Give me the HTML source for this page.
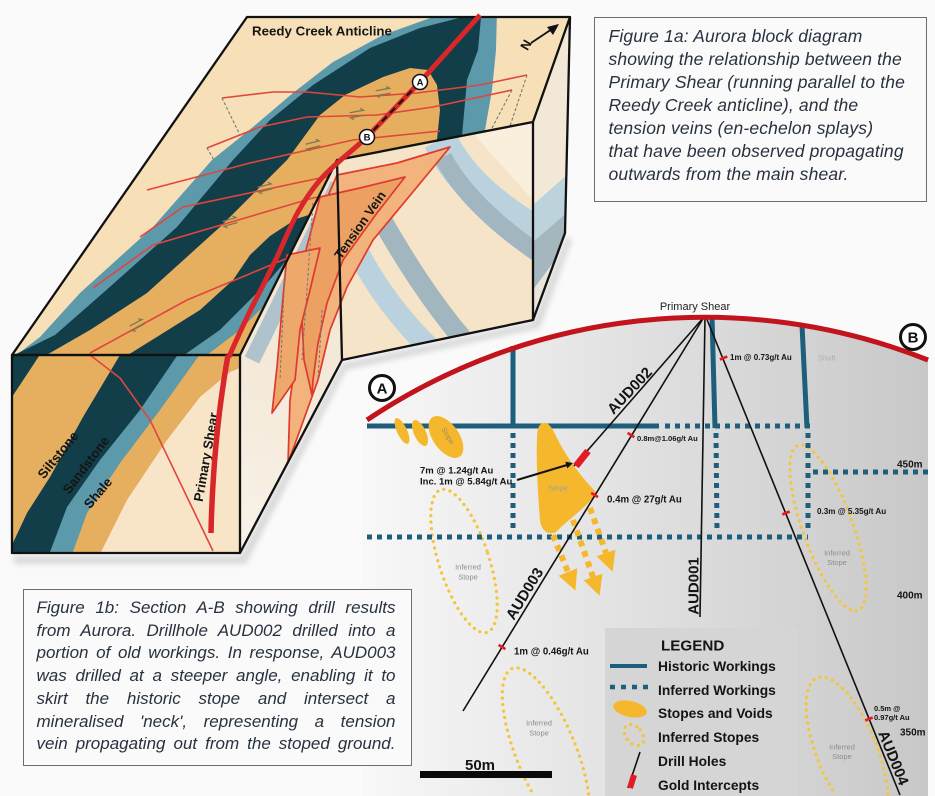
<!DOCTYPE html>
<html><head><meta charset="utf-8">
<style>
html,body{margin:0;padding:0;background:#fafafa;}
#wrap{position:relative;width:935px;height:796px;overflow:hidden;background:#fafafa;font-family:"Liberation Sans",sans-serif;}
svg{position:absolute;left:0;top:0;}
.cap{position:absolute;box-sizing:border-box;border:1.5px solid #6e6e6e;background:#fafafa;color:#28323f;font-style:italic;font-family:"Liberation Sans",sans-serif;}
.j{text-align:justify;text-align-last:justify;}
</style></head><body>
<div id="wrap">
<svg width="935" height="796" viewBox="0 0 935 796" font-family="Liberation Sans, sans-serif">
<defs>
<clipPath id="topc"><polygon points="247,17 570,17 533,122 337,160 240,355 12,355"/></clipPath>
<clipPath id="frontc"><rect x="12" y="355" width="228" height="198"/></clipPath>
<clipPath id="notchc"><polygon points="240,355 337,160 342,360 240,553"/></clipPath>
<clipPath id="rfc"><polygon points="337,160 533,122 533,320 342,360"/></clipPath>
<clipPath id="rsc"><polygon points="533,122 570,17 565,233 533,320"/></clipPath>
<linearGradient id="secg" x1="362" y1="0" x2="928" y2="0" gradientUnits="userSpaceOnUse"><stop offset="0" stop-color="#f8f8f8"/><stop offset="1" stop-color="#c8c8c8"/></linearGradient>
<linearGradient id="notchg" x1="300" y1="200" x2="260" y2="540" gradientUnits="userSpaceOnUse"><stop offset="0" stop-color="#f1e2cb"/><stop offset="1" stop-color="#f8f1e7"/></linearGradient>
<filter id="blur"><feGaussianBlur stdDeviation="3"/></filter>
</defs>

<!-- ===== SECTION ===== -->
<path d="M367,420 A606,606 0 0,1 928,360 L928,796 L362,796 L362,420 Z" fill="url(#secg)"/>
<rect x="605" y="628" width="193" height="168" fill="#d5d5d5"/>

<g fill="none" stroke="#f4c53a" stroke-width="3.3" stroke-linecap="round" stroke-dasharray="0 6.5">
<ellipse cx="464" cy="561" rx="25" ry="75" transform="rotate(-18 464 561)"/>
<ellipse cx="828" cy="528" rx="25" ry="88" transform="rotate(-20 828 528)"/>
<path d="M588.6,794 A30,90 -22 1 0 533,794"/>
<path d="M887.8,794 A30,80 -22 1 0 834.8,794"/>
<ellipse cx="634" cy="735" rx="8" ry="12" transform="rotate(-40 634 735)"/>
</g>

<g stroke="#1d5e7b" stroke-width="5" fill="none">
<line x1="367" y1="426" x2="659" y2="426"/>
<line x1="513" y1="346" x2="513" y2="428"/>
<line x1="712" y1="316" x2="715" y2="428"/>
<line x1="802" y1="325" x2="807" y2="428"/>
<line x1="610" y1="666" x2="647" y2="666" stroke-width="4"/>
</g>
<g stroke="#1d5e7b" stroke-width="5" stroke-dasharray="5 5" fill="none">
<line x1="665" y1="426" x2="810" y2="426"/>
<line x1="513" y1="433" x2="513" y2="532"/>
<line x1="367" y1="537" x2="808" y2="537"/>
<line x1="716" y1="433" x2="717" y2="532"/>
<line x1="808" y1="433" x2="808" y2="532"/>
<line x1="813" y1="472" x2="930" y2="472"/>
<line x1="610" y1="687" x2="650" y2="687" stroke-width="4.5" stroke-dasharray="5 6"/>
</g>

<g fill="#f5b82c">
<ellipse cx="402" cy="431" rx="5" ry="14" transform="rotate(-25 402 431)"/>
<ellipse cx="420" cy="433" rx="6" ry="14" transform="rotate(-25 420 433)"/>
<ellipse cx="446" cy="437" rx="13" ry="24" transform="rotate(-35 446 437)"/>
<path d="M541,424 C548,420 552,428 556,436 C565,455 580,476 596,492 C590,505 572,516 556,532 C548,536 541,530 540,520 C538,495 536,460 537,440 C537,432 538,426 541,424 Z"/>
<ellipse cx="630" cy="709" rx="17" ry="8" transform="rotate(12 630 709)"/>
</g>
<g stroke="#f5b82c" stroke-width="6" stroke-dasharray="6 5" fill="none">
<line x1="553" y1="535" x2="568" y2="572"/>
<line x1="573" y1="520" x2="593" y2="577"/>
<line x1="590" y1="508" x2="606" y2="553"/>
</g>
<g fill="#f5b82c">
<polygon points="575.4,590.6 577.3,568.3 558.7,575.7"/>
<polygon points="599.6,595.8 602.4,573.7 583.6,580.3"/>
<polygon points="612.6,571.8 615.4,549.7 596.6,556.3"/>
</g>
<text x="446" y="437" font-size="7" fill="#a08a60" text-anchor="middle" transform="rotate(60 446 437)">Stope</text>
<text x="558" y="490.5" font-size="7.5" fill="#a0a0a0" text-anchor="middle">Stope</text>

<g stroke="#111" stroke-width="1.6">
<line x1="704" y1="317" x2="574" y2="466"/>
<line x1="704" y1="317" x2="463" y2="711"/>
<line x1="705" y1="317" x2="700" y2="617"/>
<line x1="706" y1="317" x2="900" y2="795"/>
<line x1="640" y1="752" x2="628" y2="788"/>
<line x1="517" y1="480" x2="567" y2="465" stroke-width="2"/>
</g>
<polygon points="573,463 567.3,468.4 565.3,461.8" fill="#111"/>

<g stroke="#e31b23" stroke-width="2.6">
<line x1="627.6" y1="432.9" x2="634.4" y2="437.1"/>
<line x1="591.2" y1="492.9" x2="598" y2="497.1"/>
<line x1="498.6" y1="644.9" x2="505.4" y2="649.1"/>
<line x1="719.9" y1="359.5" x2="727.3" y2="356.5"/>
<line x1="782.3" y1="514.5" x2="789.7" y2="511.5"/>
<line x1="865.3" y1="720.5" x2="872.7" y2="717.5"/>
<line x1="588" y1="451" x2="576" y2="466" stroke-width="7"/>
<line x1="634" y1="775" x2="630" y2="788" stroke-width="6"/>
</g>

<g font-weight="bold" fill="#141414">
<text x="420" y="473.5" font-size="9.5">7m @ 1.24g/t Au</text>
<text x="420" y="484.5" font-size="9.5">Inc. 1m @ 5.84g/t Au</text>
<text x="637" y="441" font-size="7.6">0.8m@1.06g/t Au</text>
<text x="607" y="502.5" font-size="9.7">0.4m @ 27g/t Au</text>
<text x="730" y="360" font-size="8">1m @ 0.73g/t Au</text>
<text x="817" y="514" font-size="8.1">0.3m @ 5.35g/t Au</text>
<text x="514" y="654.5" font-size="9.7">1m @ 0.46g/t Au</text>
<text x="874" y="711" font-size="7.5">0.5m @</text>
<text x="874" y="720" font-size="7.5">0.97g/t Au</text>
<text x="897" y="467.5" font-size="10">450m</text>
<text x="897" y="598.5" font-size="10">400m</text>
<text x="900" y="735.5" font-size="10">350m</text>
<text transform="translate(630,391) rotate(-47)" font-size="15" text-anchor="middle" dominant-baseline="central">AUD002</text>
<text transform="translate(525,594) rotate(-58.6)" font-size="15" text-anchor="middle" dominant-baseline="central">AUD003</text>
<text transform="translate(694,586) rotate(-90)" font-size="15" text-anchor="middle" dominant-baseline="central">AUD001</text>
<text transform="translate(893,758) rotate(67.8)" font-size="15" text-anchor="middle" dominant-baseline="central">AUD004</text>
<text x="661" y="650.5" font-size="15.2">LEGEND</text>
<text x="658" y="671" font-size="13.8">Historic Workings</text>
<text x="658" y="695" font-size="13.8">Inferred Workings</text>
<text x="658" y="718" font-size="13.8">Stopes and Voids</text>
<text x="658" y="742" font-size="13.8">Inferred Stopes</text>
<text x="658" y="766" font-size="13.8">Drill Holes</text>
<text x="658" y="790" font-size="13.8">Gold Intercepts</text>
<text x="465" y="770" font-size="15">50m</text>
</g>
<rect x="420" y="771" width="132" height="7" fill="#0a0a0a"/>
<g font-size="7.5" fill="#8c8c8c" text-anchor="middle">
<text x="468" y="569.5">Inferred</text><text x="468" y="579.5">Stope</text>
<text x="837" y="555.5">Inferred</text><text x="837" y="565">Stope</text>
<text x="539" y="725.5">Inferred</text><text x="539" y="735.5">Stope</text>
<text x="842" y="749.5">Inferred</text><text x="842" y="759">Stope</text>
</g>
<text x="818" y="360.5" font-size="7.5" fill="#b0b0b0">Shaft</text>
<text x="695" y="310" font-size="11" fill="#222" text-anchor="middle">Primary Shear</text>

<path d="M367,420 A606,606 0 0,1 928,360" fill="none" stroke="#c1141c" stroke-width="5"/>
<circle cx="382" cy="388" r="12.5" fill="#fff" stroke="#111" stroke-width="3"/>
<text x="382" y="393.5" font-size="15" font-weight="bold" text-anchor="middle" fill="#111">A</text>
<circle cx="913" cy="337" r="12.5" fill="#fff" stroke="#111" stroke-width="3"/>
<text x="913" y="342.5" font-size="15" font-weight="bold" text-anchor="middle" fill="#111">B</text>

<!-- ===== BLOCK ===== -->
<polygon points="14,556 240,556 342,363 533,322 566,236 572,240 540,328 346,370 246,564 14,564" fill="#000" opacity="0.13" filter="url(#blur)"/>

<g clip-path="url(#topc)">
<rect x="0" y="0" width="600" height="400" fill="#f7dfb8"/>
<polygon fill="#5c99ab" points="433,10 433,17 383,35 333,62 293,93 253,127 212,160 153,227 80,293 40,337 15,356 -10,380 -10,420 300,420 485,200 485,130 492,90 496,50 497,10"/>
<polygon fill="#113e49" points="463,10 463,17 420,28 370,48 313,85 270,120 233,160 177,227 103,293 55,335 10,357 -10,380 -10,420 300,420 462,200 462,136 467,80 478,50 481,17 481,10"/>
<polygon fill="#e6ae5f" points="410,68 383,77 345,95 320,115 287,160 220,227 147,293 90,330 43,357 20,400 300,420 437,200 437,140 440,110 437,85 428,70"/>
<polygon fill="#113e49" points="123,358 160,335 200,310 233,280 250,255 270,236 296,219 318,212 322,222 300,250 285,262 268,282 250,300 220,330 180,358"/>
<polygon fill="#5c99ab" points="180,358 220,330 250,300 268,282 285,262 300,250 312,244 292,274 270,300 240,330 203,358"/>
<g fill="none" stroke="#e2453c" stroke-width="1.6">
<polyline points="222,98 273,92 307,92 360,97 417,93 480,85 527,75"/>
<polyline points="207,148 260,127 307,117 377,115 433,107 512,90"/>
<polyline points="147,190 250,163 353,140 440,131"/>
<polyline points="140,237 183,207 320,178 360,173"/>
<polyline points="93,288 153,245 313,198 360,190"/>
<polyline points="90,353 187,300 290,257 325,250"/>
</g>
<g fill="none" stroke="#777" stroke-width="1.1" stroke-dasharray="3 2">
<line x1="222" y1="98" x2="240" y2="135"/>
<line x1="207" y1="148" x2="214" y2="160"/>
<line x1="527" y1="75" x2="510" y2="126"/>
<line x1="512" y1="90" x2="492" y2="128"/>
</g>
<g fill="none" stroke="#7a7a52" stroke-width="1.3">
<path transform="translate(383,92) rotate(-10)" d="M-7,-2.5 L7,-2.5 L4,-5 M7,2.5 L-7,2.5 L-4,5"/>
<path transform="translate(357,114) rotate(-10)" d="M-7,-2.5 L7,-2.5 L4,-5 M7,2.5 L-7,2.5 L-4,5"/>
<path transform="translate(313,145) rotate(-14)" d="M-7,-2.5 L7,-2.5 L4,-5 M7,2.5 L-7,2.5 L-4,5"/>
<path transform="translate(265,188) rotate(-14)" d="M-7,-2.5 L7,-2.5 L4,-5 M7,2.5 L-7,2.5 L-4,5"/>
<path transform="translate(230,222) rotate(-16)" d="M-7,-2.5 L7,-2.5 L4,-5 M7,2.5 L-7,2.5 L-4,5"/>
<path transform="translate(137,325) rotate(-28)" d="M-7,-2.5 L7,-2.5 L4,-5 M7,2.5 L-7,2.5 L-4,5"/>
</g>
</g>

<g clip-path="url(#frontc)">
<rect x="0" y="340" width="260" height="230" fill="#f8e5c7"/>
<polygon fill="#e6ae5f" points="0,350 245,350 240,368 230,372 200,397 167,440 127,500 97,560 0,560"/>
<polygon fill="#5c99ab" points="0,350 203,350 160,410 120,463 87,513 70,560 0,560"/>
<polygon fill="#113e49" points="0,350 181,350 140,410 100,460 67,507 47,560 0,560"/>
<polygon fill="#e6ae5f" points="0,350 123,350 83,417 50,477 27,513 12,545 0,560"/>
<polygon fill="#113e49" points="0,350 43,350 12,397 0,410"/>
<polyline points="90,355 120,378 150,420 213,551" fill="none" stroke="#e2453c" stroke-width="1.6"/>
</g>
<g font-weight="bold" font-size="13.3" fill="#141414" text-anchor="middle" dominant-baseline="central">
<text transform="translate(58,455) rotate(-51)">Siltstone</text>
<text transform="translate(86,465) rotate(-53)">Sandstone</text>
<text transform="translate(98,493) rotate(-50)">Shale</text>
<text transform="translate(206,457) rotate(-80)">Primary Shear</text>
</g>

<g clip-path="url(#notchc)">
<rect x="230" y="150" width="120" height="410" fill="url(#notchg)"/>
<path d="M338,185 L252,360" stroke="#afc3cc" stroke-width="16" fill="none"/>
</g>

<g clip-path="url(#rfc)">
<rect x="330" y="110" width="210" height="260" fill="#f6e4c8"/>
<polygon points="470,130 533,122 533,200" fill="#faeedd"/>
<path d="M440,140 C460,180 495,210 545,238" stroke="#bad2dd" stroke-width="34" fill="none"/>
<path d="M443,157 C460,190 495,225 545,258" stroke="#a2b6c0" stroke-width="18" fill="none"/>
<path d="M358,252 C375,285 400,320 432,350" stroke="#bad2dd" stroke-width="22" fill="none"/>
<path d="M383,222 C405,260 430,300 462,338" stroke="#a2b6c0" stroke-width="20" fill="none"/>
</g>

<g clip-path="url(#rsc)">
<rect x="525" y="10" width="50" height="320" fill="#f3e8d8"/>
<polygon points="533,205 570,172 570,210 533,242" fill="#bcd3dd"/>
<polygon points="533,242 570,210 570,240 533,290" fill="#a4b6be"/>
<polygon points="533,290 570,240 570,330 533,330" fill="#ece4da"/>
</g>

<!-- veins -->
<g stroke="#df3a2f" stroke-width="1.7" stroke-linejoin="round">
<polygon fill="#f2b47c" points="337,175 397,163 450,147 417,187 373,240 347,287 330,330 318,380 300,430 288,463 290,400 300,330 310,260 322,210"/>
<polygon fill="#eca163" points="320,197 360,188 405,177 377,213 343,260 327,303 318,343 313,380 312,395 304,360 301,300 306,250"/>
<polygon fill="#eea86c" points="287,255 320,248 310,290 300,330 295,380 272,413 277,367 283,297"/>
</g>
<g fill="none" stroke="#777" stroke-width="1" stroke-dasharray="3 2">
<line x1="285" y1="270" x2="280" y2="380"/>
<line x1="313" y1="203" x2="302" y2="360"/>
<line x1="322" y1="310" x2="318" y2="380"/>
</g>
<text transform="translate(360,225) rotate(-55)" font-size="13" font-weight="bold" fill="#141414" text-anchor="middle" dominant-baseline="central">Tension Vein</text>

<!-- outlines -->
<g fill="none" stroke="#111" stroke-width="2.3" stroke-linejoin="round">
<polygon points="247,17 570,17 533,122 337,160 240,355 12,355"/>
<rect x="12" y="355" width="228" height="198"/>
<polyline points="240,553 342,360 337,160"/>
<polyline points="342,360 533,320 533,122"/>
<polyline points="570,17 565,233 533,320"/>
</g>

<!-- primary shear on block -->
<path d="M480,15 L420,82 L367,137 C350,153 333,165 320,180 C310,192 305,200 298,212 C288,230 282,248 273,265 C265,282 257,297 250,311 C243,326 236,340 229,357" fill="none" stroke="#d9262b" stroke-width="5"/>
<path d="M228,355 Q213,440 211,533" fill="none" stroke="#d9262b" stroke-width="5.5"/>
<line x1="420" y1="82" x2="367" y2="137" stroke="#111" stroke-width="2" stroke-dasharray="7 5"/>
<circle cx="420" cy="82" r="7.5" fill="#fff" stroke="#111" stroke-width="1.5"/>
<text x="420" y="85.5" font-size="9.5" font-weight="bold" text-anchor="middle" fill="#111">A</text>
<circle cx="367" cy="137" r="7.5" fill="#fff" stroke="#111" stroke-width="1.5"/>
<text x="367" y="140.5" font-size="9.5" font-weight="bold" text-anchor="middle" fill="#111">B</text>

<text x="252" y="35.5" font-size="13.3" font-weight="bold" fill="#161616">Reedy Creek Anticline</text>
<line x1="531" y1="43" x2="552" y2="29" stroke="#111" stroke-width="1.8"/>
<polygon points="559,24 547,27 553,35" fill="#111"/>
<text transform="translate(526,45) rotate(-60)" font-size="13" font-weight="bold" fill="#111" text-anchor="middle" dominant-baseline="central">N</text>
</svg>

<div class="cap" style="left:594px;top:17px;width:333px;height:185px;padding:7px 0 0 13.5px;font-size:17.5px;line-height:23px;letter-spacing:0.15px;white-space:nowrap;">Figure 1a: Aurora block diagram<br>showing the relationship between the<br>Primary Shear (running parallel to the<br>Reedy Creek anticline), and the<br>tension veins (en-echelon splays)<br>that have been observed propagating<br>outwards from the main shear.</div>

<div class="cap" style="left:23px;top:589px;width:389px;height:177px;padding:7px 15.5px 0 12.5px;font-size:17px;line-height:22.7px;">
<div class="j">Figure 1b: Section A-B showing drill results</div>
<div class="j">from Aurora. Drillhole AUD002 drilled into a</div>
<div class="j">portion of old workings. In response, AUD003</div>
<div class="j">was drilled at a steeper angle, enabling it to</div>
<div class="j">skirt the historic stope and intersect a</div>
<div class="j">mineralised 'neck', representing a tension</div>
<div class="j">vein propagating out from the stoped ground.</div>
</div>
</div>
</body></html>
